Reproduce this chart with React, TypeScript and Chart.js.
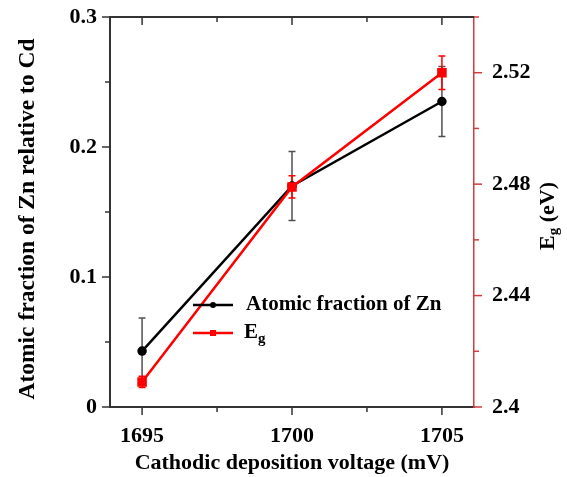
import React, { useEffect, useRef } from 'react';
import { Chart, registerables } from 'chart.js';

Chart.register(...registerables);

// ---- data ----
const voltages = [1695, 1700, 1705];
const zincFraction = [0.043, 0.17, 0.235];
const zincError = [0.0255, 0.0265, 0.027];
const bandGap = [2.409, 2.479, 2.52];
const bandGapError = [0.002, 0.004, 0.006];

const xTicks = [1695, 1697.5, 1700, 1702.5, 1705];
const xTickLabels = ['1695', '', '1700', '', '1705'];
const yLeftTicks = [0, 0.05, 0.1, 0.15, 0.2, 0.25, 0.3];
const yLeftLabels = ['0', '', '0.1', '', '0.2', '', '0.3'];
const yRightTicks = [2.4, 2.42, 2.44, 2.46, 2.48, 2.5, 2.52, 2.54];
const yRightLabels = ['2.4', '', '2.44', '', '2.48', '', '2.52', ''];

const zincLabel = 'Atomic fraction of Zn';
const egLabelMain = 'E';
const egLabelSub = 'g';
const xTitle = 'Cathodic deposition voltage (mV)';
const yLeftTitle = 'Atomic fraction of Zn relative to Cd';
const yRightTitleMain = 'E';
const yRightTitleSub = 'g';
const yRightTitleRest = ' (eV)';

const FONT = "'Liberation Serif', 'Times New Roman', serif";
const RED = '#ff0000';
const AXIS_RED = '#d23c3c';
const AXIS_DARK = '#333333';

function labelAt(values: number[], labels: string[], v: number): string {
  const i = values.findIndex((t) => Math.abs(t - v) < 1e-6);
  return i >= 0 ? labels[i] : '';
}

const errorBarPlugin = {
  id: 'errorBars',
  beforeDatasetsDraw(chart: any) {
    const { ctx } = chart;
    const sets = [
      { values: zincFraction, errors: zincError, axis: 'y', color: '#505050' },
      { values: bandGap, errors: bandGapError, axis: 'y2', color: RED },
    ];
    ctx.save();
    sets.forEach((s) => {
      const ys = chart.scales[s.axis];
      ctx.strokeStyle = s.color;
      ctx.lineWidth = 1.5;
      s.values.forEach((v, i) => {
        const px = chart.scales.x.getPixelForValue(voltages[i]);
        const top = ys.getPixelForValue(v + s.errors[i]);
        const bot = ys.getPixelForValue(v - s.errors[i]);
        ctx.beginPath();
        ctx.moveTo(px, top);
        ctx.lineTo(px, bot);
        ctx.moveTo(px - 3.5, top);
        ctx.lineTo(px + 3.5, top);
        ctx.moveTo(px - 3.5, bot);
        ctx.lineTo(px + 3.5, bot);
        ctx.stroke();
      });
    });
    ctx.restore();
  },
};

const decoPlugin = {
  id: 'deco',
  afterDraw(chart: any) {
    const { ctx, chartArea: a, scales } = chart;
    ctx.save();
    // top border
    ctx.strokeStyle = AXIS_DARK;
    ctx.lineWidth = 2;
    ctx.beginPath();
    ctx.moveTo(a.left - 1, a.top);
    ctx.lineTo(a.right, a.top);
    ctx.stroke();
    // x ticks (bottom outward, top inward)
    ctx.lineWidth = 1.5;
    scales.x.ticks.forEach((t: any) => {
      const px = scales.x.getPixelForValue(t.value);
      const major = labelAt(xTicks, xTickLabels, t.value) !== '';
      const len = major ? 8 : 5;
      ctx.beginPath();
      ctx.moveTo(px, a.bottom);
      ctx.lineTo(px, a.bottom + len);
      ctx.moveTo(px, a.top);
      ctx.lineTo(px, a.top + len);
      ctx.stroke();
    });
    // left ticks
    scales.y.ticks.forEach((t: any) => {
      const py = scales.y.getPixelForValue(t.value);
      const major = labelAt(yLeftTicks, yLeftLabels, t.value) !== '';
      const len = major ? 8 : 5;
      ctx.beginPath();
      ctx.moveTo(a.left, py);
      ctx.lineTo(a.left - len, py);
      ctx.stroke();
    });
    // right ticks
    ctx.strokeStyle = AXIS_RED;
    scales.y2.ticks.forEach((t: any) => {
      const py = scales.y2.getPixelForValue(t.value);
      const major = labelAt(yRightTicks, yRightLabels, t.value) !== '';
      const len = major ? 8 : 5;
      ctx.beginPath();
      ctx.moveTo(a.right, py);
      ctx.lineTo(a.right + len, py);
      ctx.stroke();
    });
    ctx.restore();

    // left axis title (reads bottom to top)
    ctx.save();
    ctx.fillStyle = '#000';
    ctx.translate(33.5, (a.top + a.bottom) / 2 + 7);
    ctx.rotate(-Math.PI / 2);
    ctx.textAlign = 'center';
    ctx.textBaseline = 'alphabetic';
    ctx.font = `bold 23.5px ${FONT}`;
    ctx.fillText(yLeftTitle, 0, 0);
    ctx.restore();

    // right axis title (reads bottom to top)
    ctx.save();
    ctx.fillStyle = '#000';
    ctx.translate(548, (a.top + a.bottom) / 2 + 4);
    ctx.rotate(-Math.PI / 2);
    ctx.textBaseline = 'middle';
    const big = `bold 22px ${FONT}`;
    const small = `bold 15px ${FONT}`;
    ctx.font = big;
    const wE = ctx.measureText(yRightTitleMain).width;
    const wRest = ctx.measureText(yRightTitleRest).width;
    ctx.font = small;
    const wg = ctx.measureText(yRightTitleSub).width;
    const total = wE + wg + wRest;
    const x0 = -total / 2;
    ctx.font = big;
    ctx.textAlign = 'left';
    ctx.fillText(yRightTitleMain, x0, 0);
    ctx.font = small;
    ctx.fillText(yRightTitleSub, x0 + wE, 6);
    ctx.font = big;
    ctx.fillText(yRightTitleRest, x0 + wE + wg, 0);
    ctx.restore();

    // legend
    ctx.save();
    const lx0 = a.left + 83;
    const lx1 = a.left + 123;
    const tx = a.left + 136;
    const row1 = a.top + 288;
    const row2 = a.top + 316;
    ctx.lineWidth = 2.5;
    ctx.strokeStyle = '#000';
    ctx.beginPath();
    ctx.moveTo(lx0, row1);
    ctx.lineTo(lx1, row1);
    ctx.stroke();
    ctx.fillStyle = '#000';
    ctx.beginPath();
    ctx.arc((lx0 + lx1) / 2, row1, 3, 0, Math.PI * 2);
    ctx.fill();
    ctx.strokeStyle = RED;
    ctx.beginPath();
    ctx.moveTo(lx0, row2);
    ctx.lineTo(lx1, row2);
    ctx.stroke();
    ctx.fillStyle = RED;
    ctx.fillRect((lx0 + lx1) / 2 - 3, row2 - 3, 6, 6);
    ctx.fillStyle = '#000';
    ctx.textBaseline = 'middle';
    ctx.textAlign = 'left';
    ctx.font = `bold 21px ${FONT}`;
    ctx.fillText(zincLabel, tx, row1);
    const wE2 = ctx.measureText(egLabelMain).width;
    ctx.fillText(egLabelMain, tx - 2, row2);
    ctx.font = `bold 15px ${FONT}`;
    ctx.fillText(egLabelSub, tx - 2 + wE2, row2 + 6);
    ctx.restore();
  },
};

function zeroPad(s: any) {
  s.paddingTop = 0;
  s.paddingBottom = 0;
  s.paddingLeft = 0;
  s.paddingRight = 0;
}

export default function App() {
  const ref = useRef<HTMLCanvasElement | null>(null);

  useEffect(() => {
    if (!ref.current) return;
    const tickFont = { family: FONT, size: 22, weight: 'bold' as const };
    const chart = new Chart(ref.current, {
      type: 'line',
      data: {
        datasets: [
          {
            label: zincLabel,
            data: voltages.map((v, i) => ({ x: v, y: zincFraction[i] })),
            yAxisID: 'y',
            borderColor: '#000',
            backgroundColor: '#000',
            borderWidth: 2.5,
            pointRadius: 3.5,
            pointStyle: 'circle',
            order: 1,
          },
          {
            label: egLabelMain + egLabelSub,
            data: voltages.map((v, i) => ({ x: v, y: bandGap[i] })),
            yAxisID: 'y2',
            borderColor: RED,
            backgroundColor: RED,
            borderWidth: 2.5,
            pointRadius: 5,
            pointStyle: 'rect',
            order: 0,
          },
        ],
      },
      options: {
        responsive: false,
        animation: false,
        events: [],
        layout: { padding: { left: 0, right: 0, top: 17, bottom: 0 } },
        plugins: { legend: { display: false }, tooltip: { enabled: false } },
        scales: {
          x: {
            type: 'linear',
            position: 'bottom',
            min: 1693.93,
            max: 1706.07,
            afterBuildTicks: (s: any) => {
              s.ticks = xTicks.map((v) => ({ value: v }));
            },
            afterFit: (s: any) => {
              s.height = 70;
              zeroPad(s);
            },
            ticks: {
              autoSkip: false,
              maxRotation: 0,
              padding: 16,
              color: '#000',
              font: tickFont,
              callback: (v: any) => labelAt(xTicks, xTickLabels, Number(v)),
            },
            grid: { display: false, drawTicks: false },
            border: { display: true, color: AXIS_DARK, width: 2 },
            title: {
              display: true,
              text: xTitle,
              color: '#000',
              font: { family: FONT, size: 22, weight: 'bold' },
              padding: { top: 0, bottom: 0 },
            },
          },
          y: {
            type: 'linear',
            position: 'left',
            min: 0,
            max: 0.3,
            afterBuildTicks: (s: any) => {
              s.ticks = yLeftTicks.map((v) => ({ value: v }));
            },
            afterFit: (s: any) => {
              s.width = 110;
              zeroPad(s);
            },
            ticks: {
              autoSkip: false,
              padding: 13,
              color: '#000',
              font: tickFont,
              callback: (v: any) => labelAt(yLeftTicks, yLeftLabels, Number(v)),
            },
            grid: { display: false, drawTicks: false },
            border: { display: true, color: AXIS_DARK, width: 2 },
          },
          y2: {
            type: 'linear',
            position: 'right',
            min: 2.4,
            max: 2.54,
            afterBuildTicks: (s: any) => {
              s.ticks = yRightTicks.map((v) => ({ value: v }));
            },
            afterFit: (s: any) => {
              s.width = 93;
              zeroPad(s);
            },
            ticks: {
              autoSkip: false,
              padding: 18,
              color: '#000',
              font: tickFont,
              callback: (v: any) => labelAt(yRightTicks, yRightLabels, Number(v)),
            },
            grid: { display: false, drawTicks: false },
            border: { display: true, color: AXIS_RED, width: 1.5 },
          },
        },
      },
      plugins: [errorBarPlugin, decoPlugin],
    });
    return () => chart.destroy();
  }, []);

  return (
    <div style={{ position: 'absolute', left: 0, top: 0, width: 567, height: 477, background: '#fff' }}>
      <canvas ref={ref} width={567} height={477} style={{ display: 'block' }} />
    </div>
  );
}
